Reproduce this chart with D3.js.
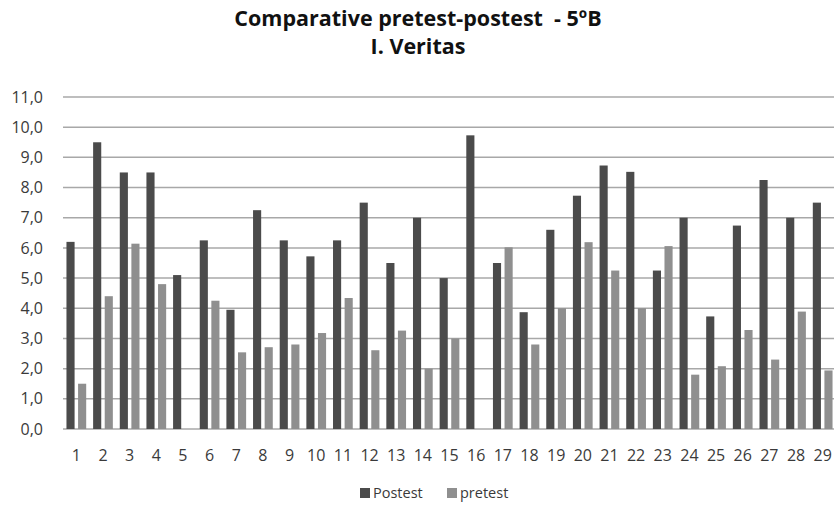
<!DOCTYPE html>
<html>
<head>
<meta charset="utf-8">
<script src="https://cdn.jsdelivr.net/npm/d3@7"></script>
<style>
  body { margin: 0; background: #fff; }
  svg { display: block; font-family: "Open Sans", "Noto Sans", sans-serif; }
</style>
</head>
<body>
<div id="chart"></div>
<script>
const students = d3.range(1, 30).map(String);
const postest = [6.2, 9.5, 8.5, 8.5, 5.1, 6.25, 3.95, 7.25, 6.25, 5.72, 6.25, 7.5, 5.5, 7.0, 5.0,
  9.73, 5.5, 3.87, 6.6, 7.73, 8.73, 8.52, 5.25, 7.0, 3.73, 6.74, 8.25, 7.0, 7.5];
const pretest = [1.5, 4.4, 6.14, 4.8, 0, 4.25, 2.54, 2.71, 2.8, 3.18, 4.34, 2.61, 3.26, 2.0, 3.0,
  0, 6.02, 2.8, 4.0, 6.19, 5.25, 4.0, 6.06, 1.8, 2.08, 3.28, 2.3, 3.89, 1.94];
const seriesNames = ['Postest', 'pretest'];
const yTicks = d3.range(0, 12);
const titleLines = ['Comparative pretest-postest  - 5ºB', 'I. Veritas'];

const colors = { Postest: '#4b4b4b', pretest: '#8f8f8f' };
const width = 834, height = 506;
const margin = { top: 97, right: -2, bottom: 77, left: 63 };

const svg = d3.select('#chart').append('svg')
  .attr('width', width)
  .attr('height', height);

const x = d3.scaleBand()
  .domain(students)
  .range([margin.left, width - margin.right])
  .paddingInner(0.26)
  .paddingOuter(0.13);

const x1 = d3.scaleBand()
  .domain(seriesNames)
  .range([0, x.bandwidth()])
  .paddingInner(0.3);

const y = d3.scaleLinear()
  .domain([0, 11])
  .range([height - margin.bottom, margin.top]);

// gridlines
svg.append('g')
  .selectAll('line')
  .data(yTicks)
  .join('line')
  .attr('x1', margin.left)
  .attr('x2', width)
  .attr('y1', d => y(d))
  .attr('y2', d => y(d))
  .attr('stroke', '#a8a8a8')
  .attr('stroke-width', 1.5);

// y axis labels
const yAxis = d3.axisLeft(y).tickValues(yTicks).tickSize(0).tickPadding(20)
  .tickFormat(d => d3.format('.1f')(d).replace('.', ','));
svg.append('g')
  .attr('transform', `translate(${margin.left},0)`)
  .call(yAxis)
  .call(g => g.select('.domain').remove())
  .call(g => g.selectAll('text').attr('font-size', 16).attr('fill', '#3a3a3a')
    .attr('font-family', '"Open Sans", sans-serif'));

// bars
const rows = students.map((s, i) => ({ s, vals: [
  { k: 'Postest', v: postest[i] }, { k: 'pretest', v: pretest[i] }] }));

svg.append('g')
  .selectAll('g')
  .data(rows)
  .join('g')
  .attr('transform', d => `translate(${x(d.s)},0)`)
  .selectAll('rect')
  .data(d => d.vals)
  .join('rect')
  .attr('x', d => x1(d.k))
  .attr('width', x1.bandwidth())
  .attr('y', d => y(d.v))
  .attr('height', d => y(0) - y(d.v))
  .attr('fill', d => colors[d.k]);

// x axis labels
const xAxis = d3.axisBottom(x).tickSize(0).tickPadding(21);
svg.append('g')
  .attr('transform', `translate(0,${y(0)})`)
  .call(xAxis)
  .call(g => g.select('.domain').remove())
  .call(g => g.selectAll('text').attr('font-size', 16).attr('fill', '#3a3a3a')
    .attr('font-family', '"Open Sans", sans-serif'));

// title
svg.append('g')
  .selectAll('text')
  .data(titleLines)
  .join('text')
  .attr('x', 418)
  .attr('y', (d, i) => 26 + i * 28)
  .attr('text-anchor', 'middle')
  .attr('font-size', 21.5)
  .attr('font-weight', 'bold')
  .attr('fill', '#111')
  .style('white-space', 'pre')
  .text(d => d);

// legend
const legendX = [360, 447];
const legend = svg.append('g')
  .selectAll('g')
  .data(seriesNames)
  .join('g')
  .attr('transform', (d, i) => `translate(${legendX[i]},488)`);
legend.append('rect')
  .attr('width', 10).attr('height', 10)
  .attr('fill', d => colors[d]);
legend.append('text')
  .attr('x', 13).attr('y', 10)
  .attr('font-size', 14.5)
  .attr('fill', '#3a3a3a')
  .text(d => d);
</script>
</body>
</html>
